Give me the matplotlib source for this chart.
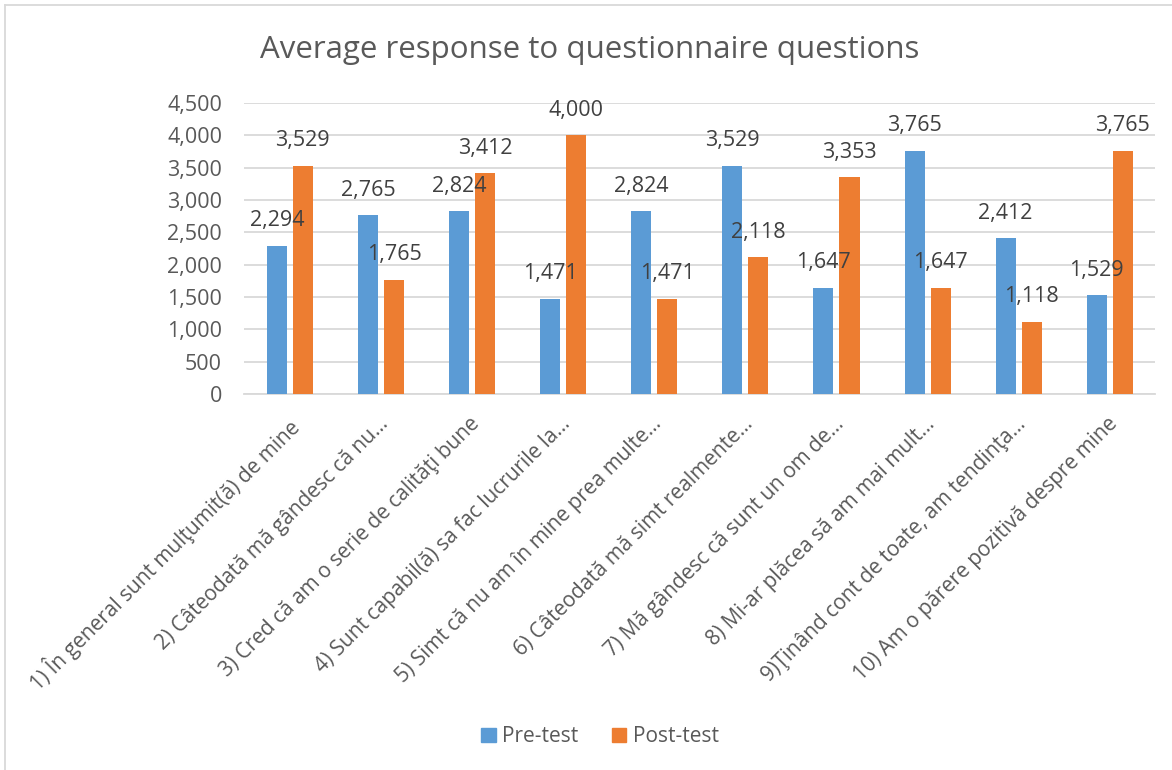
import matplotlib
matplotlib.use("Agg")
import matplotlib.pyplot as plt
from matplotlib.lines import Line2D
from matplotlib.ticker import FuncFormatter, MultipleLocator
from matplotlib.transforms import ScaledTranslation
import numpy as np

questions = [
    "1) În general sunt mulţumit(ă) de mine",
    "2) Câteodată mă gândesc că nu...",
    "3) Cred că am o serie de calităţi bune",
    "4) Sunt capabil(ă) sa fac lucrurile la...",
    "5) Simt că nu am în mine prea multe...",
    "6) Câteodată mă simt realmente...",
    "7) Mă gândesc că sunt un om de...",
    "8) Mi-ar plăcea să am mai mult...",
    "9)Ţinând cont de toate, am tendinţa...",
    "10) Am o părere pozitivă despre mine",
]
pre_test = [2294, 2765, 2824, 1471, 2824, 3529, 1647, 3765, 2412, 1529]
post_test = [3529, 1765, 3412, 4000, 1471, 2118, 3353, 1647, 1118, 3765]

series_names = ["Pre-test", "Post-test"]
colors = ["#5B9BD5", "#ED7D31"]
text_color = "#595959"
grid_color = "#D9D9D9"

plt.rcParams["font.family"] = ["Open Sans", "DejaVu Sans"]

fig = plt.figure(figsize=(11.72, 7.70), dpi=100)
ax = fig.add_axes([0.2084, 0.4883, 0.7774, 0.3779])

x = np.arange(len(questions))
width = 0.22
offset = 0.143

for vals, name, col, sign in zip([pre_test, post_test], series_names, colors, [-1, 1]):
    bars = ax.bar(x + sign * offset, vals, width=width, color=col, label=name, zorder=3)
    for b, v in zip(bars, vals):
        ax.annotate(f"{v:,}", xy=(b.get_x() + b.get_width() / 2, v),
                    xytext=(0, 18), textcoords="offset points",
                    ha="center", va="center", fontsize=15.5, color="#404040", zorder=4)

ax.set_xlim(-0.5, len(questions) - 0.5)
ax.set_ylim(0, 4500)
ax.yaxis.set_major_locator(MultipleLocator(500))
ax.yaxis.set_major_formatter(FuncFormatter(lambda v, p: f"{int(v):,}"))
ax.grid(axis="y", color=grid_color, linewidth=1.3, zorder=0)
ax.set_axisbelow(True)

for s in ["top", "right", "left"]:
    ax.spines[s].set_visible(False)
ax.spines["bottom"].set_color(grid_color)
ax.spines["bottom"].set_linewidth(1.3)

ax.tick_params(axis="y", length=0, labelsize=15.5, colors=text_color, pad=16)
ax.tick_params(axis="x", length=0, labelsize=15, colors=text_color, pad=14)
ax.set_xticks(x)
ax.set_xticklabels(questions, rotation=45, ha="right", rotation_mode="anchor")
for lbl in ax.get_xticklabels():
    lbl.set_transform(lbl.get_transform() + ScaledTranslation(-0.03, 0, fig.dpi_scale_trans))

fig.text(0.503, 0.935, "Average response to questionnaire questions", ha="center", va="center",
         fontsize=22.5, color=text_color)

handles = [plt.Rectangle((0, 0), 1, 1, color=c) for c in colors]
fig.legend(handles, series_names, loc="center", bbox_to_anchor=(0.512, 0.043), ncol=2,
           frameon=False, fontsize=15, labelcolor=text_color, handlelength=0.7,
           handleheight=0.7, handletextpad=0.3, columnspacing=1.6)

# thin frame along top and left edge of the chart area
fig.add_artist(Line2D([0.0045, 0.0045], [0.0, 0.9935], transform=fig.transFigure,
                      color=grid_color, linewidth=1.3))
fig.add_artist(Line2D([0.0045, 1.0], [0.9935, 0.9935], transform=fig.transFigure,
                      color=grid_color, linewidth=1.3))

fig.savefig("out.png", dpi=100, facecolor="white")
